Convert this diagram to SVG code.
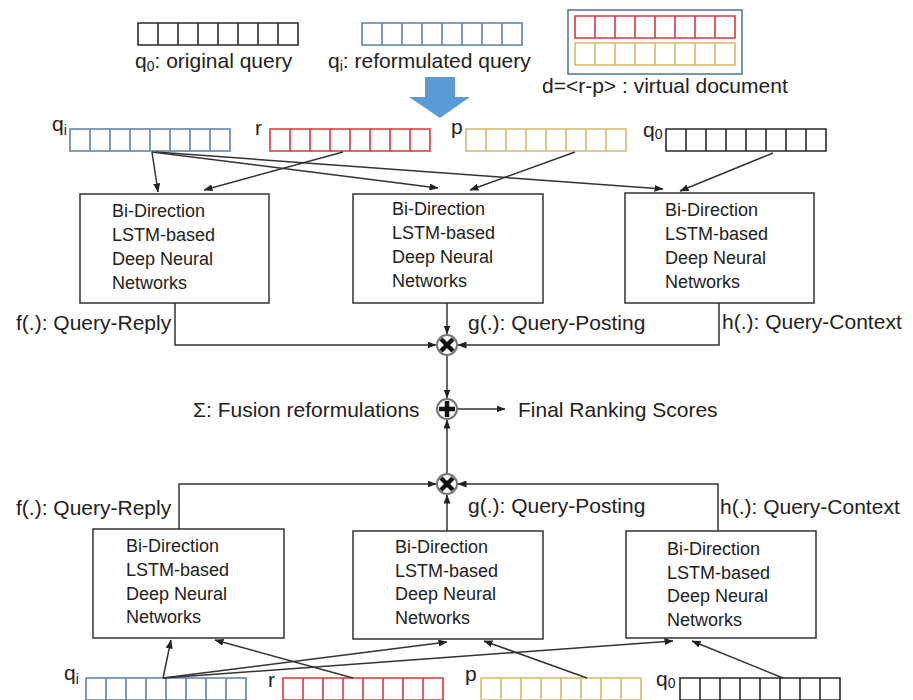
<svg xmlns="http://www.w3.org/2000/svg" xmlns:xlink="http://www.w3.org/1999/xlink" width="913" height="700" viewBox="0 0 913 700">
<style>
  .bg{fill:#ffffff}
  text{font-family:"Liberation Sans",Arial,sans-serif;fill:#222}
  .lbl{font-size:21px}
  .box{fill:#fff;stroke:#333;stroke-width:1.5}
  .btxt{font-size:18px}
  .conn{fill:none;stroke:#333;stroke-width:1.5}
  .row{fill:none;stroke-width:1.6}
  .blue{stroke:#5b80a8}
  .red{stroke:#d63a3a}
  .gold{stroke:#d8b86e}
  .blk{stroke:#2a2a2a}
  .ring{fill:#fff;stroke:#777;stroke-width:2}
  .op{stroke:#111;stroke-width:4.5;fill:none}
</style>
<defs>
  <marker id="ah" markerUnits="userSpaceOnUse" markerWidth="9" markerHeight="7" refX="8.5" refY="3.5" orient="auto">
    <path d="M0,0 L9,3.5 L0,7 z" fill="#222"/>
  </marker>
  <path id="cells" d="M0,0 H160 V22 H0 Z M20,0 V22 M40,0 V22 M60,0 V22 M80,0 V22 M100,0 V22 M120,0 V22 M140,0 V22"/>
</defs>
<rect class="bg" x="0" y="0" width="913" height="700"/>

<g id="legend">
  <use xlink:href="#cells" class="row blk" x="138" y="23"/>
  <text class="lbl" x="135" y="68">q<tspan font-size="14" dy="3">0</tspan><tspan dy="-3">: original query</tspan></text>
  <use xlink:href="#cells" class="row blue" x="362" y="23"/>
  <text class="lbl" x="328" y="68">q<tspan font-size="14" dy="3">i</tspan><tspan dy="-3">: reformulated query</tspan></text>
  <rect x="568" y="10" width="174" height="64" fill="none" stroke="#5b7a99" stroke-width="1.6"/>
  <use xlink:href="#cells" class="row red" x="575" y="16" transform="translate(0,0)"/>
  <use xlink:href="#cells" class="row gold" x="575" y="43"/>
  <text class="lbl" x="542" y="93">d=&lt;r-p&gt; : virtual document</text>
  <polygon points="425,77 455,77 455,97 470,97 440,118 409,97 425,97" fill="#5b9bd5"/>
</g>

<g id="inputs-top">
  <text class="lbl" x="52" y="131">q<tspan font-size="14" dy="4">i</tspan></text>
  <use xlink:href="#cells" class="row blue" x="70" y="129"/>
  <text class="lbl" x="255" y="135">r</text>
  <use xlink:href="#cells" class="row red" x="270" y="129"/>
  <text class="lbl" x="451" y="134">p</text>
  <use xlink:href="#cells" class="row gold" x="466" y="129"/>
  <text class="lbl" x="643" y="137">q<tspan font-size="14" dy="2">0</tspan></text>
  <use xlink:href="#cells" class="row blk" x="666" y="129"/>
</g>

<g id="node-top-f">
  <rect class="box" x="80" y="194" width="189" height="109"/>
  <text class="btxt" x="112" y="217">Bi-Direction</text>
  <text class="btxt" x="112" y="241">LSTM-based</text>
  <text class="btxt" x="112" y="265">Deep Neural</text>
  <text class="btxt" x="112" y="289">Networks</text>
</g>
<g id="node-top-g">
  <rect class="box" x="353" y="194" width="190" height="109"/>
  <text class="btxt" x="392" y="215">Bi-Direction</text>
  <text class="btxt" x="392" y="239">LSTM-based</text>
  <text class="btxt" x="392" y="263">Deep Neural</text>
  <text class="btxt" x="392" y="287">Networks</text>
</g>
<g id="node-top-h">
  <rect class="box" x="625" y="193" width="189" height="110"/>
  <text class="btxt" x="665" y="216">Bi-Direction</text>
  <text class="btxt" x="665" y="240">LSTM-based</text>
  <text class="btxt" x="665" y="264">Deep Neural</text>
  <text class="btxt" x="665" y="288">Networks</text>
</g>

<g id="node-bot-f">
  <rect class="box" x="93" y="529" width="191" height="109"/>
  <text class="btxt" x="126" y="552">Bi-Direction</text>
  <text class="btxt" x="126" y="576">LSTM-based</text>
  <text class="btxt" x="126" y="600">Deep Neural</text>
  <text class="btxt" x="126" y="623">Networks</text>
</g>
<g id="node-bot-g">
  <rect class="box" x="353" y="531" width="190" height="108"/>
  <text class="btxt" x="395" y="553">Bi-Direction</text>
  <text class="btxt" x="395" y="577">LSTM-based</text>
  <text class="btxt" x="395" y="600">Deep Neural</text>
  <text class="btxt" x="395" y="624">Networks</text>
</g>
<g id="node-bot-h">
  <rect class="box" x="626" y="531" width="190" height="107"/>
  <text class="btxt" x="667" y="555">Bi-Direction</text>
  <text class="btxt" x="667" y="579">LSTM-based</text>
  <text class="btxt" x="667" y="602">Deep Neural</text>
  <text class="btxt" x="667" y="626">Networks</text>
</g>

<g id="inputs-bottom">
  <text class="lbl" x="64" y="680">q<tspan font-size="14" dy="4">i</tspan></text>
  <use xlink:href="#cells" class="row blue" x="86" y="678"/>
  <text class="lbl" x="268" y="687">r</text>
  <use xlink:href="#cells" class="row red" x="283" y="678"/>
  <text class="lbl" x="465" y="681">p</text>
  <use xlink:href="#cells" class="row gold" x="481" y="678"/>
  <text class="lbl" x="656" y="686">q<tspan font-size="14" dy="2">0</tspan></text>
  <use xlink:href="#cells" class="row blk" x="680" y="678"/>
</g>

<g id="labels">
  <text class="lbl" x="16" y="330">f(.): Query-Reply</text>
  <text class="lbl" x="468" y="330">g(.): Query-Posting</text>
  <text class="lbl" x="722" y="329">h(.): Query-Context</text>
  <text class="lbl" x="193" y="417">Σ: Fusion reformulations</text>
  <text class="lbl" x="518" y="417">Final Ranking Scores</text>
  <text class="lbl" x="16" y="515">f(.): Query-Reply</text>
  <text class="lbl" x="468" y="513">g(.): Query-Posting</text>
  <text class="lbl" x="720" y="514">h(.): Query-Context</text>
</g>

<g id="connectors">
  <path class="conn" marker-end="url(#ah)" d="M152,152 L158,192"/>
  <path class="conn" marker-end="url(#ah)" d="M152,152 L438,188"/>
  <path class="conn" marker-end="url(#ah)" d="M156,152 L663,189"/>
  <path class="conn" marker-end="url(#ah)" d="M343,152 L204,190"/>
  <path class="conn" marker-end="url(#ah)" d="M575,152 L470,190"/>
  <path class="conn" marker-end="url(#ah)" d="M773,153 L680,191"/>

  <path class="conn" marker-end="url(#ah)" d="M175,303 V345 H436"/>
  <path class="conn" marker-end="url(#ah)" d="M447,303 V334"/>
  <path class="conn" marker-end="url(#ah)" d="M719,303 V345 H458"/>
  <path class="conn" marker-end="url(#ah)" d="M447,356 V398"/>
  <path class="conn" marker-end="url(#ah)" d="M447,473 V420"/>
  <path class="conn" marker-end="url(#ah)" d="M458,409 H505"/>
  <path class="conn" marker-end="url(#ah)" d="M179,529 V484 H436"/>
  <path class="conn" marker-end="url(#ah)" d="M447,531 V495"/>
  <path class="conn" marker-end="url(#ah)" d="M718,531 V484 H458"/>

  <path class="conn" marker-end="url(#ah)" d="M163,678 L171,640"/>
  <path class="conn" marker-end="url(#ah)" d="M163,678 L447,642"/>
  <path class="conn" marker-end="url(#ah)" d="M163,678 L673,641"/>
  <path class="conn" marker-end="url(#ah)" d="M353,678 L215,640"/>
  <path class="conn" marker-end="url(#ah)" d="M587,678 L484,641"/>
  <path class="conn" marker-end="url(#ah)" d="M783,678 L692,641"/>
</g>

<g id="op-mult-top">
  <circle class="ring" cx="447" cy="345" r="10"/>
  <path class="op" d="M441,339 L453,351 M453,339 L441,351"/>
</g>
<g id="op-sum">
  <circle class="ring" cx="447" cy="409" r="10"/>
  <path class="op" d="M447,401 V417 M439,409 H455"/>
</g>
<g id="op-mult-bot">
  <circle class="ring" cx="447" cy="484" r="10"/>
  <path class="op" d="M441,478 L453,490 M453,478 L441,490"/>
</g>
</svg>
